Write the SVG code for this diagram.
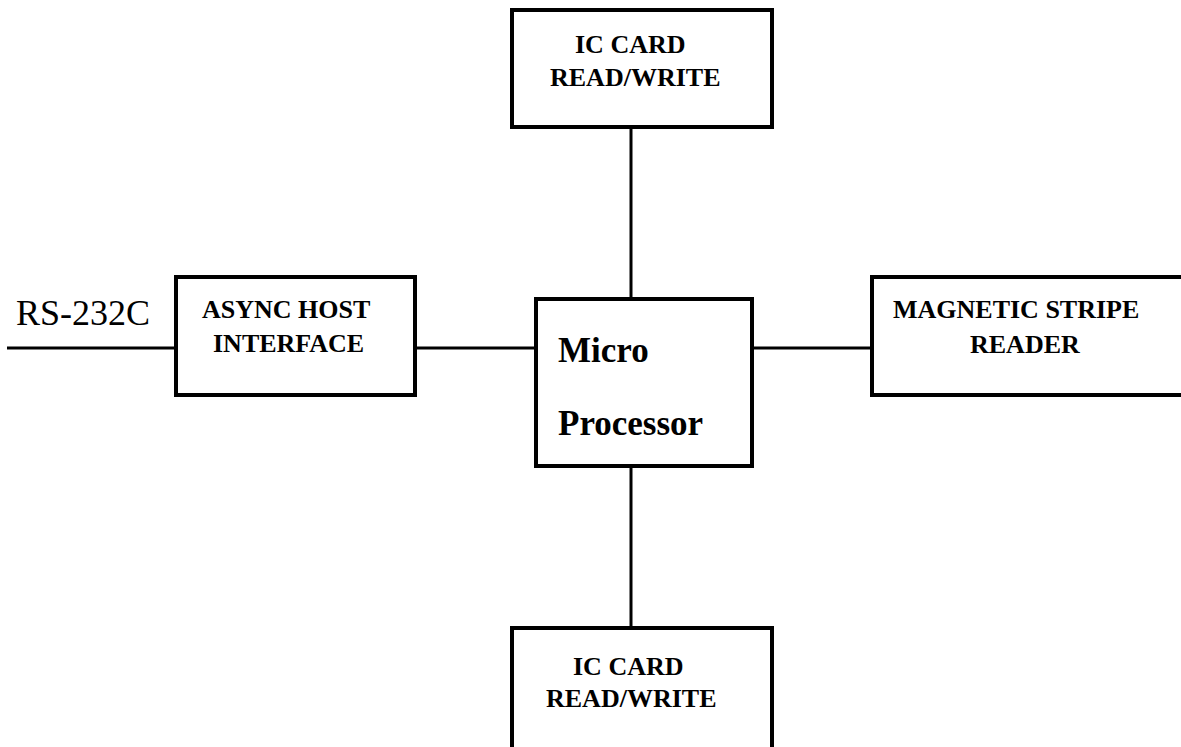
<svg xmlns="http://www.w3.org/2000/svg" width="1181" height="747" viewBox="0 0 1181 747">
<style>
.box{fill:#fff;stroke:#000;stroke-width:4}
.wire{stroke:#000;stroke-width:3;fill:none}
.lbl{font-family:"Liberation Serif","Times New Roman",serif;font-weight:bold;font-size:26px;fill:#000}
.big{font-family:"Liberation Serif","Times New Roman",serif;font-weight:bold;font-size:35px;fill:#000}
.plain{font-family:"Liberation Serif","Times New Roman",serif;font-size:36px;fill:#000}
</style>
<rect width="1181" height="747" fill="#fff"/>
<g id="connectors">
<line class="wire" x1="7" y1="348" x2="176" y2="348"/>
<line class="wire" x1="415" y1="348" x2="536" y2="348"/>
<line class="wire" x1="752" y1="348" x2="872" y2="348"/>
<line class="wire" x1="631" y1="129" x2="631" y2="299"/>
<line class="wire" x1="631" y1="467" x2="631" y2="628"/>
</g>
<g id="rs232">
<text class="plain" x="16" y="325">RS-232C</text>
</g>
<g id="ic-top">
<rect class="box" x="512" y="10" width="260" height="117"/>
<text class="lbl" x="575" y="53">IC CARD</text>
<text class="lbl" x="550" y="86">READ/WRITE</text>
</g>
<g id="async">
<rect class="box" x="176" y="277" width="239" height="118"/>
<text class="lbl" x="202" y="318">ASYNC HOST</text>
<text class="lbl" x="213" y="352">INTERFACE</text>
</g>
<g id="micro">
<rect class="box" x="536" y="299" width="216" height="167"/>
<text class="big" x="558" y="362">Micro</text>
<text class="big" x="558" y="435">Processor</text>
</g>
<g id="magnetic">
<rect class="box" x="872" y="277" width="330" height="118"/>
<text class="lbl" x="893" y="318">MAGNETIC STRIPE</text>
<text class="lbl" x="970" y="353">READER</text>
</g>
<g id="ic-bottom">
<rect class="box" x="512" y="628" width="260" height="140"/>
<text class="lbl" x="573" y="675">IC CARD</text>
<text class="lbl" x="546" y="707">READ/WRITE</text>
</g>
</svg>
